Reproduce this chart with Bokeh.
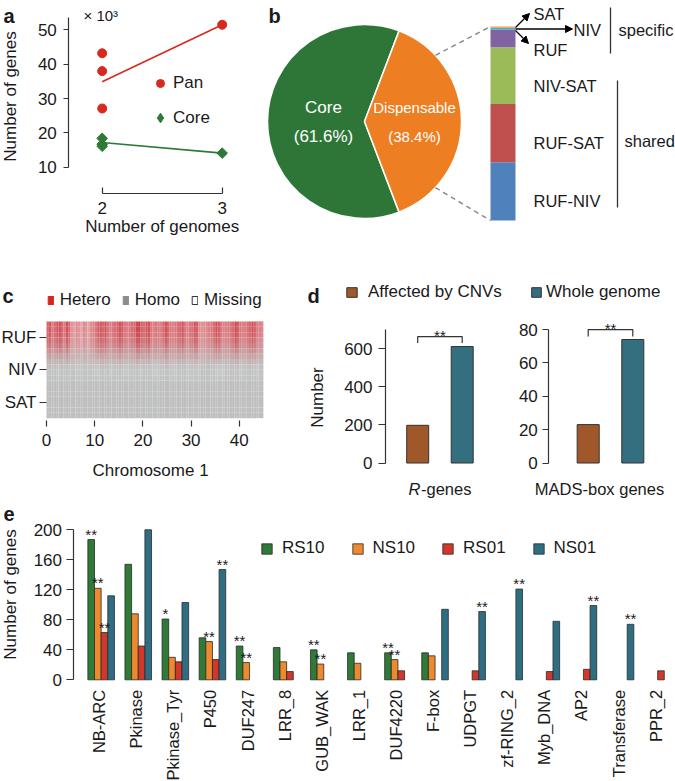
import numpy as np
from bokeh.plotting import figure
from bokeh.models import (Range1d, FixedTicker, Label, LabelSet, ColumnDataSource,
                          Legend, LegendItem, Arrow, NormalHead, LinearAxis)
from bokeh.layouts import row, column
from bokeh.core.properties import value
from bokeh.embed import file_html
from bokeh.resources import INLINE

# ---------------- data ----------------
# panel a (numbers of genes, x 10^3)
genomes_pan = [2, 2, 2, 3]
pan_genes = [43.2, 38.0, 27.1, 51.5]
genomes_core = [2, 2, 2, 3]
core_genes = [18.4, 16.7, 16.1, 14.1]
fit_genomes = [2, 3]
pan_fit = [34.9, 51.5]
core_fit = [17.2, 14.1]

# panel b
pie_names = ["Core", "Dispensable"]
pie_pct = [61.6, 38.4]
disp_groups = ["RUF-NIV", "RUF-SAT", "NIV-SAT", "RUF", "NIV", "SAT"]
disp_share = [30.0, 30.1, 29.2, 9.0, 1.0, 0.7]

# panel c (chromosome 1, 0.5 Mb bins)
chrom_len = 45.0
c_rows = ["SAT", "NIV", "RUF"]
c_ticks = [0, 10, 20, 30, 40]
c_keys = ["Hetero", "Homo", "Missing"]
ruf_hetero = [0.7, 0.8, 0.6, 0.65, 0.8, 0.85, 0.7, 0.6, 0.85, 0.7,
              0.45, 0.4, 0.5, 0.45, 0.4, 0.5, 0.45, 0.4, 0.5, 0.55,
              0.6, 0.75, 0.8, 0.7, 0.85, 0.6, 0.55, 0.6, 0.65, 0.75,
              0.85, 0.8, 0.6, 0.55, 0.6, 0.65, 0.7, 0.9, 0.95, 0.75,
              0.65, 0.8, 0.85, 0.6, 0.55, 0.6, 0.6, 0.55, 0.7, 0.85,
              0.7, 0.6, 0.55, 0.6, 0.65, 0.7, 0.85, 0.6, 0.55, 0.6,
              0.65, 0.8, 0.75, 0.5, 0.45, 0.5, 0.5, 0.55, 0.6, 0.65,
              0.85, 0.75, 0.6, 0.55, 0.55, 0.6, 0.6, 0.7, 0.9, 0.75,
              0.6, 0.55, 0.6, 0.65, 0.7, 0.85, 0.7, 0.6, 0.55, 0.5]
niv_missing = [0.4, 0.45, 0.8, 0.45, 0.4, 0.5, 0.8, 0.45, 0.4, 0.5,
               0.85, 0.45, 0.4, 0.8, 0.5, 0.45, 0.85, 0.5, 0.45, 0.8,
               0.5, 0.55, 1.0, 0.6, 0.5, 0.45, 0.8, 0.5, 0.45, 0.85,
               0.5, 0.8, 0.45, 0.4, 0.5, 0.85, 1.0, 0.55, 0.45, 0.5,
               0.85, 0.45, 0.4, 0.8, 0.5]

# panel d
d_groups = ["Affected by CNVs", "Whole genome"]
r_genes = [198, 612]
mads_genes = [23, 74]

# panel e
families = ["NB-ARC", "Pkinase", "Pkinase_Tyr", "P450", "DUF247", "LRR_8", "GUB_WAK",
            "LRR_1", "DUF4220", "F-box", "UDPGT", "zf-RING_2", "Myb_DNA", "AP2",
            "Transferase", "PPR_2"]
series = ["RS10", "NS10", "RS01", "NS01"]
rs10 = [187, 154, 81, 56, 45, 43, 40, 36, 36, 36, 0, 0, 0, 0, 0, 0]
ns10 = [122, 88, 30, 51, 23, 24, 21, 22, 27, 32, 0, 0, 0, 0, 0, 0]
rs01 = [63, 45, 24, 27, 0, 11, 0, 0, 12, 0, 12, 0, 11, 14, 0, 12]
ns01 = [112, 200, 103, 147, 0, 0, 0, 0, 0, 94, 91, 121, 78, 99, 74, 0]
sig_rs10 = ["**", "", "*", "", "**", "", "**", "", "**", "", "", "", "", "", "", ""]
sig_ns10 = ["**", "", "", "**", "**", "", "**", "", "**", "", "", "", "", "", "", ""]
sig_rs01 = ["**", "", "", "", "", "", "", "", "", "", "", "", "", "", "", ""]
sig_ns01 = ["", "", "", "**", "", "", "", "", "", "", "**", "**", "", "**", "**", ""]

# ---------------- style ----------------
FONT = "Liberation Sans"
INK = "#1a1a1a"
AX = "#333333"
RED_A = "#D8291F"
GREEN_A = "#2C7A36"
PIE_GREEN = "#2E7638"
PIE_ORANGE = "#EE7E22"
SEG_COLORS = ["#4F81BD", "#C0504D", "#9BBB59", "#8064A2", "#4BACC6", "#F79646"]
BROWN = "#A0572A"
TEAL = "#336F7F"
E_COLORS = ["#2F7A37", "#EE8A2E", "#D1372A", "#2F6E82"]
FS = "17px"


def make(box, xmap, ymap):
    """Figure whose frame fills the whole box; ranges follow the pixel maps."""
    x0, y0, x1, y1 = box

    def xv(px):
        return xmap[0] + (px - xmap[1]) * (xmap[2] - xmap[0]) / (xmap[3] - xmap[1])

    def yv(py):
        return ymap[0] + (py - ymap[1]) * (ymap[2] - ymap[0]) / (ymap[3] - ymap[1])

    p = figure(width=x1 - x0, height=y1 - y0,
               x_range=Range1d(xv(x0), xv(x1)), y_range=Range1d(yv(y1), yv(y0)),
               output_backend="svg", toolbar_location=None, tools="",
               x_axis_location=None, y_axis_location=None,
               min_border_left=0, min_border_right=0, min_border_top=0, min_border_bottom=0,
               outline_line_color=None, background_fill_color="white",
               border_fill_color="white")
    p.grid.visible = False
    return p, xv, yv


def axis(p, side, loc, ticks, bounds=None, tin=0, tout=6, standoff=5, size=FS,
         line=True, overrides=None):
    ax = LinearAxis(fixed_location=loc)
    ax.ticker = FixedTicker(ticks=ticks)
    if bounds is not None:
        ax.bounds = bounds
    ax.axis_line_color = AX if line else None
    ax.axis_line_width = 1.2
    ax.major_tick_line_color = AX
    ax.major_tick_line_width = 1.2
    ax.major_tick_in = tin
    ax.major_tick_out = tout
    ax.minor_tick_line_color = None
    ax.major_label_standoff = standoff
    ax.major_label_text_font = FONT
    ax.major_label_text_font_size = size
    ax.major_label_text_color = INK
    if overrides:
        ax.major_label_overrides = overrides
    p.add_layout(ax, side)
    return ax


def text(p, x, y, s, size=FS, align="left", baseline="middle", angle=0.0,
         color=INK, style="normal", y_range_name="default", y_offset=0):
    p.add_layout(Label(x=x, y=y, text=s, text_font=FONT, text_font_size=size,
                       text_align=align, text_baseline=baseline, angle=angle,
                       text_color=color, text_font_style=style,
                       y_range_name=y_range_name, y_offset=y_offset))


def legend(p, items, loc, orientation="vertical", gw=13, gh=13, standoff=8,
           spacing=10, size=FS):
    lg = Legend(items=items, location=loc, orientation=orientation,
                glyph_width=gw, glyph_height=gh, label_standoff=standoff,
                spacing=spacing, padding=0, margin=0, border_line_color=None,
                background_fill_alpha=0, label_text_font=FONT,
                label_text_font_size=size, label_text_color=INK,
                inactive_fill_alpha=0)
    p.add_layout(lg)


# ---------------- panel a ----------------
A_BOX = (0, 0, 240, 245)
pa, axv, ayv = make(A_BOX, (2, 101.7, 3, 221.7), (10, 166.7, 50, 29.4))
axis(pa, "below", ayv(193.3), [2, 3], (2, 3), tin=6, tout=0, standoff=8)
axis(pa, "left", axv(68.3), [10, 20, 30, 40, 50], (10, 53.7), tout=5, standoff=7)
pa.line(fit_genomes, pan_fit, line_color=RED_A, line_width=1.6)
pa.line(fit_genomes, core_fit, line_color=GREEN_A, line_width=1.6)
r_pan = pa.scatter(genomes_pan, pan_genes, marker="circle", size=9,
                   fill_color=RED_A, line_color=RED_A)
r_core = pa.scatter(genomes_core, core_genes, marker="square", angle=np.pi / 4,
                    size=7.5, fill_color=GREEN_A, line_color=GREEN_A)
# legend key for "Core": same points drawn as a diamond marker, hidden on the plot
r_core_key = pa.scatter(genomes_core, core_genes, marker="diamond", size=12,
                        fill_color=GREEN_A, line_color=GREEN_A, visible=False)
legend(pa, [LegendItem(label="Pan", renderers=[r_pan])],
       (150, 245 - 92.7), gw=20, gh=20, standoff=3)
legend(pa, [LegendItem(label="Core", renderers=[r_core_key], index=0)],
       (148, 245 - 130.2), gw=24, gh=25, standoff=1)
text(pa, axv(83), ayv(15), "× 10³", size="15px")
text(pa, axv(10), ayv(96), "Number of genes", align="center", angle=np.pi / 2)
text(pa, axv(161.7), ayv(226), "Number of genomes", align="center")
text(pa, axv(3), ayv(15), "a", size="20px", baseline="alphabetic", style="bold")

# ---------------- panel b ----------------
pb, bxv, byv = make((240, 0, 675, 245), (0, 0, 1, 1), (0, 0, -1, 1))
cx, cy, R = 364, -121, 97
half = pie_pct[1] / 100 * np.pi
pb.wedge(x=[cx, cx], y=[cy, cy], radius=R,
         start_angle=[half, -half], end_angle=[2 * np.pi - half, half],
         fill_color=[PIE_GREEN, PIE_ORANGE], line_color="white", line_width=1.5)
text(pb, cx - 41, -106.7, pie_names[0], color="white", align="center")
text(pb, cx - 41, -136, f"({pie_pct[0]}%)", color="white", align="center")
text(pb, cx + 50, -107, pie_names[1], color="white", size="15px", align="center")
text(pb, cx + 50, -136, f"({pie_pct[1]}%)", color="white", size="15px", align="center")

bar_top_px, bar_bot_px = 26.0, 220.0
sc = (bar_bot_px - bar_top_px) / sum(disp_share)
pb.extra_y_ranges = {"bar": Range1d((bar_bot_px - 245) / sc, (bar_bot_px - 0) / sc)}
tops = list(np.cumsum(disp_share))
bots = [0.0] + tops[:-1]
bar_x, bar_w = 502.5, 25
pb.vbar(x=bar_x, width=bar_w, bottom=bots, top=tops, fill_color=SEG_COLORS,
        line_color=None, y_range_name="bar")
ang = np.deg2rad(43)
pb.segment(x0=[cx + R * np.cos(ang), cx + R * np.cos(ang)],
           y0=[cy + R * np.sin(ang), cy - R * np.sin(ang)],
           x1=[bar_x - bar_w / 2, bar_x - bar_w / 2], y1=[-bar_top_px, -bar_bot_px],
           line_color="#8c8c8c", line_width=1.5, line_dash="5 4")
for (xs, ys, xe, ye) in [(515, -27, 529, -13), (515, -28.5, 572, -28.5), (515, -30, 528, -43)]:
    pb.add_layout(Arrow(x_start=xs, y_start=ys, x_end=xe, y_end=ye, line_color="black",
                        line_width=1.3,
                        end=NormalHead(size=7, fill_color="black", line_color="black")))
text(pb, 533, -13.5, disp_groups[5], size="16.5px")
text(pb, 573, -29, disp_groups[4], size="16.5px")
text(pb, 533, -49.5, disp_groups[3], size="16.5px")
mids = [(b + t) / 2 for b, t in zip(bots, tops)]
for i in range(3):
    text(pb, 533, mids[i], disp_groups[i], size="16.5px", y_range_name="bar", y_offset=-10)
pb.segment(x0=[610, 617], y0=[-7, -80], x1=[610, 617], y1=[-53, -207],
           line_color=AX, line_width=1.3)
text(pb, 618, -29, "specific", size="16.5px")
text(pb, 624, -140, "shared", size="16.5px")
text(pb, 268, -15, "b", size="20px", baseline="alphabetic", style="bold")

# ---------------- panel c ----------------
C_BOX = (0, 245, 300, 500)
pc, cxv, cyv = make(C_BOX, (0, 46, 40, 238.8), (0, 401.5, 2, 337))
axis(pc, "below", cyv(419.5), c_ticks, tout=6, standoff=8, line=False)
axis(pc, "left", 0, [0, 1, 2], tout=7, standoff=3, line=False,
     overrides={i: n for i, n in enumerate(c_rows)})
ncol = len(ruf_hetero)
edges = np.linspace(0, chrom_len, ncol + 1)
hetero_profile = {"RUF": [1.0, 1.0, 0.95, 0.85, 0.7, 0.5],
                  "NIV": [0.3, 0.15, 0.05, 0, 0, 0], "SAT": [0] * 6}
miss_profile = {"RUF": [0] * 6, "NIV": [0.05, 0.2, 0.35, 0.35, 0.25, 0.1],
                "SAT": [0.06] * 6}
G = np.array([190, 190, 190.0])
PK = np.array([228, 162, 166.0])
RD = np.array([204, 66, 74.0])
WH = np.array([214, 224, 224.0])
L, Rr, T, B, C = [], [], [], [], []
nsub = 6
for r, name in enumerate(c_rows):
    for j in range(nsub):
        top = r + 0.5 - j / nsub
        bot = r + 0.5 - (j + 1) / nsub
        for k in range(ncol):
            s = min(max((ruf_hetero[k] - 0.4) / 0.55, 0), 1) ** 0.8
            target = PK + (RD - PK) * s
            h = hetero_profile[name][j]
            m = niv_missing[min(k * len(niv_missing) // ncol, len(niv_missing) - 1)] * miss_profile[name][j]
            col = np.clip(G + (target - G) * h + (WH - G) * m, 0, 255).astype(int)
            L.append(edges[k]); Rr.append(edges[k + 1]); T.append(top); B.append(bot)
            C.append("#%02x%02x%02x" % tuple(col))
pc.quad(left=L, right=Rr, top=T, bottom=B, fill_color=C, line_color=None)
# legend keys (hidden renderers, only used by the legend)
key_src = ColumnDataSource(dict(x=[1, 1, 1], y=[1, 1, 1],
                                fc=["#D7261E", "#8C8C8C", "#FFFFFF"],
                                lc=["#D7261E", "#8C8C8C", AX]))
r_key = pc.rect(x="x", y="y", width=1, height=1, fill_color="fc", line_color="lc",
                source=key_src, visible=False)
legend(pc, [LegendItem(label=c_keys[i], renderers=[r_key], index=i) for i in range(3)],
       (46.7, 500 - 310), orientation="horizontal", gw=7, gh=10, standoff=6, spacing=11)
text(pc, cxv(150), cyv(470), "Chromosome 1", align="center")
text(pc, cxv(2), cyv(295), "c", size="20px", baseline="alphabetic", style="bold")

# ---------------- panel d ----------------
D1_BOX = (300, 245, 515, 500)
pd1, d1x, d1y = make(D1_BOX, (1, 417.2, 2, 461.7), (0, 462.5, 600, 348.3))
axis(pd1, "left", d1x(385), [0, 200, 400, 600], (0, 700), tout=7, standoff=6)
rd1 = pd1.vbar(x=[1, 2], top=r_genes, width=0.494, fill_color=[BROWN, TEAL],
               line_color=AX, line_width=1)
m1 = max(r_genes)
pd1.line([1, 1, 2, 2], [m1 * 1.03, m1 * 1.085, m1 * 1.085, m1 * 1.03], line_color=AX, line_width=1.2)
text(pd1, 1.5, m1 * 1.085, "**", size="15px", align="center", baseline="alphabetic", y_offset=1)
legend(pd1, [LegendItem(label=d_groups[0], renderers=[rd1], index=0)], (45, 500 - 302),
       gw=13, gh=12, standoff=10)
text(pd1, d1x(316.5), d1y(397), "Number", align="center", angle=np.pi / 2)
text(pd1, d1x(408), d1y(488), "R", style="italic", size="16.5px")
text(pd1, d1x(420.5), d1y(488), "-genes", size="16.5px")
text(pd1, d1x(307), d1y(295), "d", size="20px", baseline="alphabetic", style="bold")

D2_BOX = (515, 245, 675, 500)
pd2, d2x, d2y = make(D2_BOX, (1, 587.7, 2, 632.3), (0, 462.5, 80, 329))
axis(pd2, "left", d2x(548.3), [0, 20, 40, 60, 80], (0, 80), tout=6, standoff=5)
rd2 = pd2.vbar(x=[1, 2], top=mads_genes, width=0.494, fill_color=[BROWN, TEAL],
               line_color=AX, line_width=1)
m2 = max(mads_genes)
pd2.line([1, 1, 2, 2], [m2 * 1.025, m2 * 1.08, m2 * 1.08, m2 * 1.025], line_color=AX, line_width=1.2)
text(pd2, 1.5, m2 * 1.08, "**", size="15px", align="center", baseline="alphabetic", y_offset=1)
legend(pd2, [LegendItem(label=d_groups[1], renderers=[rd2], index=1)], (15, 500 - 302),
       gw=12, gh=12, standoff=4)
text(pd2, d2x(599), d2y(488), "MADS-box genes", align="center", size="16.5px")

# ---------------- panel e ----------------
E_BOX = (0, 500, 675, 781)
pe, exv, eyv = make(E_BOX, (0, 100.65, 1, 137.75), (0, 679.3, 200, 529.3))
axis(pe, "left", exv(72.5), [0, 40, 80, 120, 160, 200], (0, 200), tout=7, standoff=4)
bw = 0.179
offs = [-1.5 * bw, -0.5 * bw, 0.5 * bw, 1.5 * bw]
items = []
star_x, star_y, star_t = [], [], []
for vals, sig, off, col, name in zip([rs10, ns10, rs01, ns01],
                                     [sig_rs10, sig_ns10, sig_rs01, sig_ns01],
                                     offs, E_COLORS, series):
    xs = [i + off for i, v in enumerate(vals) if v > 0]
    ts = [v for v in vals if v > 0]
    r = pe.vbar(x=xs, top=ts, width=bw, fill_color=col, line_color="#2a2a2a", line_width=0.8)
    items.append(LegendItem(label=name, renderers=[r]))
    for i, (v, s) in enumerate(zip(vals, sig)):
        if s:
            star_x.append(i + off); star_y.append(v); star_t.append(s)
legend(pe, items, (260, 781 - 558.3), orientation="horizontal", gw=13, gh=13,
       standoff=9, spacing=26)
pe.add_layout(LabelSet(source=ColumnDataSource(dict(x=star_x, y=star_y, t=star_t)),
                       x="x", y="y", text="t", text_align="center", text_baseline="alphabetic",
                       text_font=value(FONT), text_font_size=value("15px"),
                       text_color=INK, y_offset=0))
pe.add_layout(LabelSet(source=ColumnDataSource(dict(x=list(range(len(families))),
                                                    y=[0] * len(families), t=families)),
                       x="x", y="y", text="t", angle=np.pi / 2, text_align="right",
                       text_baseline="middle", text_font=value(FONT),
                       text_font_size=value("16.5px"), text_color=INK,
                       y_offset=-10, x_offset=-2))
text(pe, exv(10), eyv(594), "Number of genes", align="center", angle=np.pi / 2)
text(pe, exv(3), eyv(513), "e", size="20px", baseline="alphabetic", style="bold")

layout = column(row(pa, pb), row(pc, pd1, pd2), pe)
open("out.html", "w").write(file_html(layout, INLINE))
